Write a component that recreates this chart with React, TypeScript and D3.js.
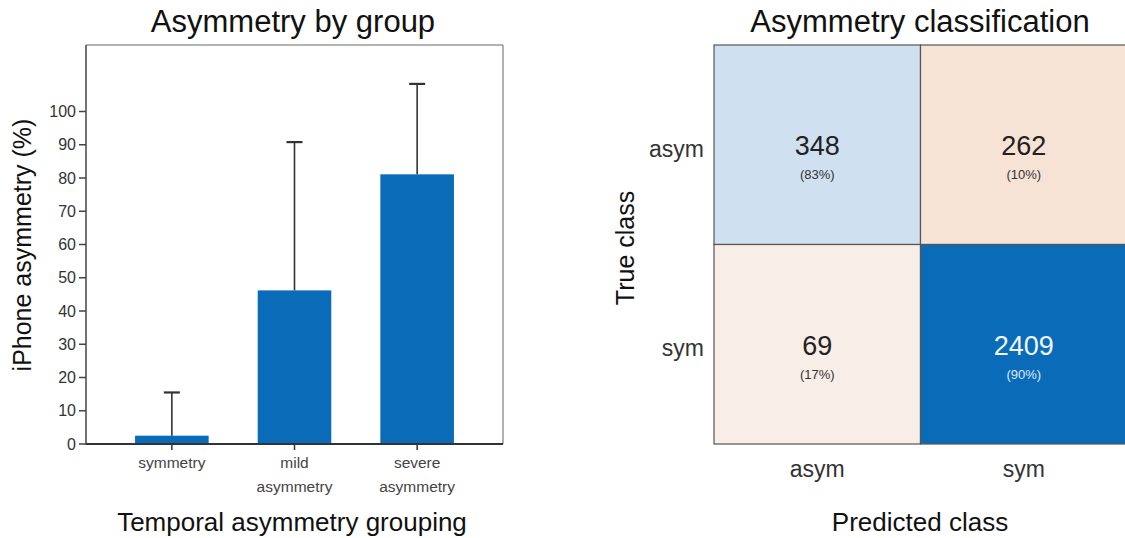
import React from "react";
import * as d3 from "d3";

const groups = ["symmetry", "mild asymmetry", "severe asymmetry"];
const groupLines = [["symmetry"], ["mild", "asymmetry"], ["severe", "asymmetry"]];
const means = [2.5, 46.2, 81.1];
const errTops = [15.5, 90.8, 108.3];
const yTicks = [0, 10, 20, 30, 40, 50, 60, 70, 80, 90, 100];

const trueClasses = ["asym", "sym"];
const predClasses = ["asym", "sym"];
const counts = [
  [348, 262],
  [69, 2409],
];
const percents = [
  [83, 10],
  [17, 90],
];

const FONT = "'Liberation Sans', Arial, Helvetica, sans-serif";

export default function App() {
  const W = 1125;
  const H = 538;

  // Left bar chart
  const x = d3.scaleBand<string>().domain(groups).range([86, 503]).paddingInner(0.4).paddingOuter(0.4);
  const y = d3.scaleLinear().domain([0, 120]).range([444, 45]);
  const barColor = "#0a6cb9";

  // Right heatmap
  const hx = d3.scaleBand<string>().domain(predClasses).range([714, 1127]);
  const hy = d3.scaleBand<string>().domain(trueClasses).range([45, 444]);
  const color = d3
    .scaleLinear<string>()
    .domain([10, 17, 83, 90])
    .range(["#f7e2d6", "#f8ede7", "#cfe0f0", "#0a6cb8"]);

  return (
    <svg width={W} height={H} style={{ position: "absolute", left: 0, top: 0, background: "#fff" }} fontFamily={FONT}>
      <rect x={0} y={0} width={W} height={H} fill="#fff" />
      {/* Left chart */}
      <text x={293} y={32} textAnchor="middle" fontSize={31} fill="#111">
        Asymmetry by group
      </text>
      {/* frame */}
      <line x1={86} x2={503} y1={y(120)} y2={y(120)} stroke="#999" strokeWidth={1.5} />
      <line x1={503} x2={503} y1={y(120)} y2={y(0)} stroke="#999" strokeWidth={1.5} />
      {/* bars */}
      {groups.map((g, i) => (
        <rect key={g} x={x(g)} y={y(means[i])} width={x.bandwidth()} height={y(0) - y(means[i])} fill={barColor} />
      ))}
      {/* error bars */}
      {groups.map((g, i) => {
        const cx = (x(g) as number) + x.bandwidth() / 2;
        return (
          <g key={"e" + g} stroke="#333" strokeWidth={1.6}>
            <line x1={cx} x2={cx} y1={y(means[i])} y2={y(errTops[i])} />
            <line x1={cx - 8} x2={cx + 8} y1={y(errTops[i])} y2={y(errTops[i])} strokeWidth={2.2} />
          </g>
        );
      })}
      {/* y axis */}
      <line x1={86} x2={86} y1={y(120)} y2={y(0)} stroke="#444" strokeWidth={1.5} />
      {yTicks.map((t) => (
        <g key={t}>
          <line x1={79} x2={86} y1={y(t)} y2={y(t)} stroke="#444" strokeWidth={1.5} />
          <text x={76} y={y(t)} dy="0.35em" textAnchor="end" fontSize={16} fill="#333">
            {t}
          </text>
        </g>
      ))}
      {/* x axis */}
      <line x1={86} x2={503} y1={y(0)} y2={y(0)} stroke="#333" strokeWidth={1.8} />
      {groups.map((g, i) => {
        const cx = (x(g) as number) + x.bandwidth() / 2;
        return (
          <g key={"x" + g}>
            <line x1={cx} x2={cx} y1={y(0)} y2={y(0) + 6} stroke="#333" strokeWidth={1.5} />
            {groupLines[i].map((ln, j) => (
              <text key={j} x={cx} y={468 + j * 24} textAnchor="middle" fontSize={15.5} fill="#444">
                {ln}
              </text>
            ))}
          </g>
        );
      })}
      <text x={292} y={531} textAnchor="middle" fontSize={26} fill="#111">
        Temporal asymmetry grouping
      </text>
      <text transform="translate(31,245) rotate(-90)" textAnchor="middle" fontSize={25} fill="#111">
        iPhone asymmetry (%)
      </text>

      {/* Right chart */}
      <text x={920} y={32} textAnchor="middle" fontSize={31} fill="#111">
        Asymmetry classification
      </text>
      {trueClasses.map((tc, r) =>
        predClasses.map((pc, c) => {
          const cx = (hx(pc) as number) + hx.bandwidth() / 2;
          const top = hy(tc) as number;
          const dark = percents[r][c] > 85;
          return (
            <g key={tc + pc}>
              <rect
                x={hx(pc)}
                y={top}
                width={hx.bandwidth()}
                height={hy.bandwidth()}
                fill={color(percents[r][c])}
                stroke="#555"
                strokeWidth={1.2}
              />
              <text x={cx} y={top + 110} textAnchor="middle" fontSize={27} fill={dark ? "#f2f6fb" : "#222"}>
                {counts[r][c]}
              </text>
              <text x={cx} y={top + 134} textAnchor="middle" fontSize={13} fill={dark ? "#dfe9f5" : "#333"}>
                {`(${percents[r][c]}%)`}
              </text>
            </g>
          );
        })
      )}
      {trueClasses.map((tc) => (
        <text key={"r" + tc} x={704} y={(hy(tc) as number) + hy.bandwidth() / 2 + 4} dy="0.35em" textAnchor="end" fontSize={23} fill="#333">
          {tc}
        </text>
      ))}
      {predClasses.map((pc) => (
        <text key={"c" + pc} x={(hx(pc) as number) + hx.bandwidth() / 2} y={477} textAnchor="middle" fontSize={23} fill="#333">
          {pc}
        </text>
      ))}
      <text transform="translate(634,248) rotate(-90)" textAnchor="middle" fontSize={25} fill="#111">
        True class
      </text>
      <text x={920} y={531} textAnchor="middle" fontSize={26} fill="#111">
        Predicted class
      </text>
    </svg>
  );
}
